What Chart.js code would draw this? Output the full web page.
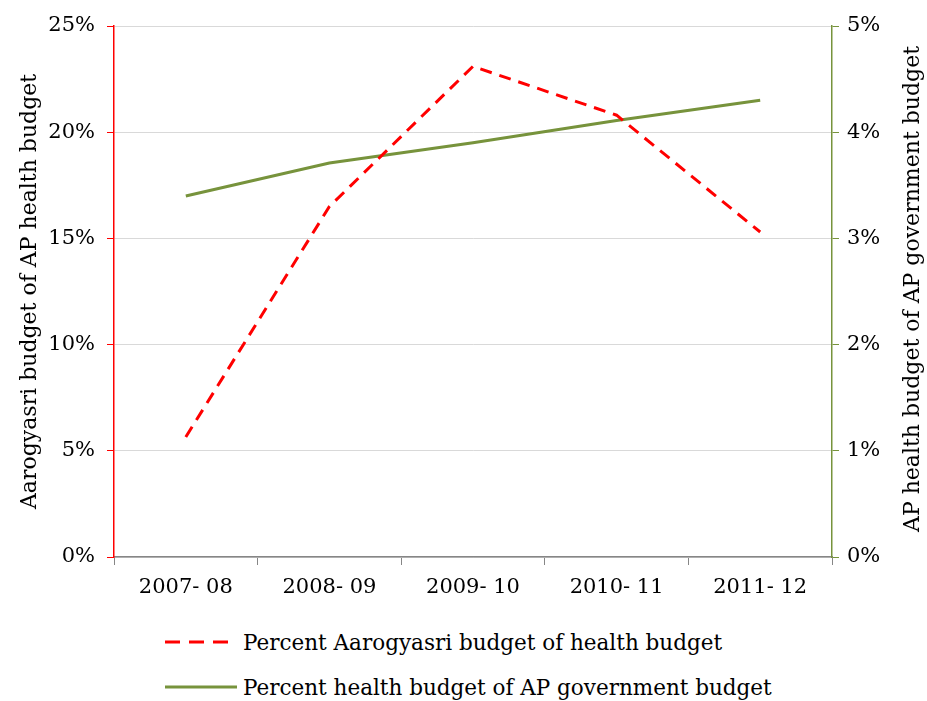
<!DOCTYPE html>
<html>
<head>
<meta charset="utf-8">
<script src="https://cdn.jsdelivr.net/npm/chart.js@4.4.1/dist/chart.umd.min.js"></script>
<style>
  html, body { margin: 0; padding: 0; background: #fff; }
  #wrap { position: relative; width: 927px; height: 701px; }
  #box { position: absolute; left: 0; top: 0; width: 927px; height: 620px; }
  .legend { position: absolute; left: 165px; font-family: "DejaVu Serif", serif; font-size: 21.5px; line-height: 26px; color: #000; white-space: nowrap; }
  .legend svg { vertical-align: middle; margin-right: 6px; position: relative; top: -2px; }
  #rtitle { position: absolute; left: 912px; top: 289px; font-family: "DejaVu Serif", serif; font-size: 22px; line-height: 26px; color: #000; white-space: nowrap; transform: translate(-50%, -50%) rotate(-90deg); }
</style>
</head>
<body>
<div id="wrap">
  <div id="box"><canvas id="chart"></canvas></div>
  <div id="rtitle">AP health budget of AP government budget</div>
  <div class="legend" style="top:630px">
    <svg width="72" height="10"><line x1="0" y1="5" x2="63" y2="5" stroke="#ff0000" stroke-width="3" stroke-dasharray="15,9"/></svg>Percent Aarogyasri budget of health budget
  </div>
  <div class="legend" style="top:675px">
    <svg width="72" height="10"><line x1="0" y1="5" x2="72" y2="5" stroke="#77933c" stroke-width="3"/></svg>Percent health budget of AP government budget
  </div>
</div>
<script>
'use strict';

const years = ['2007- 08', '2008- 09', '2009- 10', '2010- 11', '2011- 12'];
const aarogyasriShare = [5.65, 16.5, 23.1, 20.8, 15.3];
const healthShare = [3.40, 3.71, 3.90, 4.11, 4.30];
const leftTicks = [0, 5, 10, 15, 20, 25];
const rightTicks = [0, 1, 2, 3, 4, 5];

const FONT = { family: '"DejaVu Serif", serif', size: 21 };
const TITLE_FONT = { family: '"DejaVu Serif", serif', size: 22 };

const cfg = {
  type: 'line',
  data: {
    labels: years,
    datasets: [{
      label: 'Percent Aarogyasri budget of health budget',
      data: aarogyasriShare,
      yAxisID: 'y',
      borderColor: '#ff0000',
      borderWidth: 3,
      borderDash: [12, 8],
      pointRadius: 0,
      tension: 0,
      fill: false
    }, {
      label: 'Percent health budget of AP government budget',
      data: healthShare,
      yAxisID: 'y1',
      borderColor: '#77933c',
      borderWidth: 3,
      pointRadius: 0,
      tension: 0,
      fill: false
    }]
  },
  options: {
    responsive: true,
    maintainAspectRatio: false,
    animation: false,
    layout: { padding: { top: 26, bottom: 0, left: 0, right: 0 } },
    plugins: { legend: { display: false }, tooltip: { enabled: false } },
    scales: {
      x: {
        offset: true,
        afterFit: s => { s.height = 63; },
        grid: { offset: true, drawOnChartArea: false, color: '#868686', tickLength: 8 },
        border: { color: '#868686', width: 1.5 },
        ticks: { color: '#000', font: FONT, padding: 10 }
      },
      y: {
        position: 'left',
        min: 0, max: 25,
        afterFit: s => { s.width = 114; },
        afterBuildTicks: s => { s.ticks = leftTicks.map(v => ({ value: v })); },
        grid: { color: '#d9d9d9', tickColor: '#ff0000', tickLength: 7 },
        border: { color: '#ff0000', width: 1.5 },
        ticks: { color: '#000', font: FONT, padding: 12, callback: v => v + '%' },
        title: { display: true, text: 'Aarogyasri budget of AP health budget', color: '#000', font: TITLE_FONT, padding: { top: 17, bottom: 0 } }
      },
      y1: {
        position: 'right',
        min: 0, max: 5,
        afterFit: s => { s.width = 95; },
        afterBuildTicks: s => { s.ticks = rightTicks.map(v => ({ value: v })); },
        grid: { drawOnChartArea: false, tickColor: '#77933c', tickLength: 7 },
        border: { color: '#77933c', width: 1.5 },
        ticks: { color: '#000', font: FONT, padding: 8, callback: v => v + '%' }
      }
    }
  }
};

new Chart(document.getElementById('chart'), cfg);
</script>
</body>
</html>
